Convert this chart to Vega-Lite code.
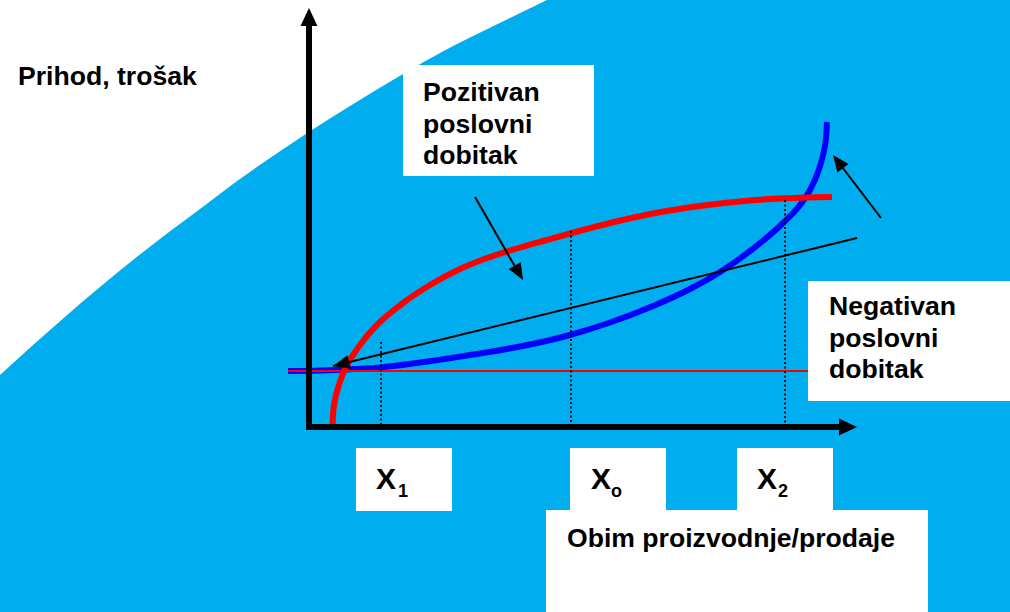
{
  "$schema": "https://vega.github.io/schema/vega-lite/v6.json",
  "width": 1010,
  "height": 612,
  "padding": 0,
  "autosize": {"type": "fit", "contains": "padding"},
  "background": "#00AEEF",
  "view": {"stroke": null},
  "config": {"text": {"font": "Liberation Sans", "fontWeight": "bold", "align": "left", "baseline": "alphabetic", "color": "#000000"}},
  "datasets": {
    "bg": [
      {"x": 0, "y": 375}, {"x": 33, "y": 345}, {"x": 66, "y": 316}, {"x": 100, "y": 287}, {"x": 133, "y": 260},
      {"x": 167, "y": 233.4}, {"x": 200, "y": 209}, {"x": 233, "y": 184}, {"x": 270, "y": 158}, {"x": 305, "y": 134.4},
      {"x": 350, "y": 106}, {"x": 403, "y": 74}, {"x": 440, "y": 53}, {"x": 470, "y": 37.5}, {"x": 510, "y": 18},
      {"x": 547, "y": 0}
    ],
    "cost": [
      {"x": 288, "y": 371}, {"x": 320, "y": 370.5}, {"x": 350, "y": 369.3}, {"x": 380, "y": 367.5}, {"x": 420, "y": 362.5},
      {"x": 470, "y": 355}, {"x": 520, "y": 346.5}, {"x": 570, "y": 335}, {"x": 610, "y": 322.5}, {"x": 653, "y": 306},
      {"x": 690, "y": 289}, {"x": 720, "y": 272}, {"x": 750, "y": 251}, {"x": 783, "y": 223}, {"x": 800, "y": 205},
      {"x": 810, "y": 190}, {"x": 818, "y": 172}, {"x": 823, "y": 155}, {"x": 826, "y": 138}, {"x": 827, "y": 122}
    ],
    "revenue": [
      {"x": 332.5, "y": 428}, {"x": 333, "y": 415}, {"x": 335, "y": 400}, {"x": 338, "y": 388}, {"x": 342, "y": 376},
      {"x": 350, "y": 360}, {"x": 363, "y": 341}, {"x": 380, "y": 322}, {"x": 403, "y": 303}, {"x": 430, "y": 285},
      {"x": 460, "y": 269}, {"x": 487, "y": 258}, {"x": 517, "y": 248.5}, {"x": 545, "y": 240.5}, {"x": 570, "y": 233.5},
      {"x": 610, "y": 223}, {"x": 653, "y": 213.5}, {"x": 700, "y": 206}, {"x": 750, "y": 200.5}, {"x": 785, "y": 198.3},
      {"x": 832, "y": 197}
    ],
    "level": [{"x": 288, "y": 371, "x2": 830, "y2": 371}],
    "pointers": [
      {"x": 333, "y": 366, "x2": 857, "y2": 238},
      {"x": 475, "y": 197, "x2": 521, "y2": 277},
      {"x": 881, "y": 218, "x2": 836, "y2": 159}
    ],
    "guides": [
      {"x": 381, "y": 342, "x2": 381, "y2": 428},
      {"x": 571, "y": 231, "x2": 571, "y2": 428},
      {"x": 785, "y": 200, "x2": 785, "y2": 428}
    ],
    "axes": [
      {"x": 309, "y": 430, "x2": 309, "y2": 20},
      {"x": 306, "y": 427, "x2": 845, "y2": 427}
    ],
    "axisHeads": [
      {"x": 309, "y": 8, "angle": 0},
      {"x": 857, "y": 427, "angle": 90}
    ],
    "pointerHeads": [
      {"x": 523, "y": 280, "angle": 150},
      {"x": 833, "y": 155, "angle": 323},
      {"x": 333, "y": 366, "angle": 256}
    ],
    "boxes": [
      {"x": 403, "y": 65, "x2": 594, "y2": 176},
      {"x": 808, "y": 281, "x2": 1010, "y2": 401},
      {"x": 356, "y": 448, "x2": 452, "y2": 511},
      {"x": 570, "y": 448, "x2": 666, "y2": 510},
      {"x": 737, "y": 448, "x2": 833, "y2": 510},
      {"x": 546, "y": 510, "x2": 928, "y2": 612}
    ],
    "labels": [
      {"x": 18, "y": 85, "text": "Prihod, trošak"},
      {"x": 423, "y": 101, "text": "Pozitivan"},
      {"x": 423, "y": 133, "text": "poslovni"},
      {"x": 423, "y": 164, "text": "dobitak"},
      {"x": 829, "y": 315, "text": "Negativan"},
      {"x": 829, "y": 347, "text": "poslovni"},
      {"x": 829, "y": 378, "text": "dobitak"},
      {"x": 567, "y": 547, "text": "Obim proizvodnje/prodaje"}
    ],
    "symbols": [
      {"x": 376, "y": 489, "text": "X"},
      {"x": 591, "y": 489, "text": "X"},
      {"x": 757, "y": 489, "text": "X"}
    ],
    "subscripts": [
      {"x": 398, "y": 497, "text": "1"},
      {"x": 611, "y": 497, "text": "o"},
      {"x": 778, "y": 497, "text": "2"}
    ]
  },
  "encoding": {
    "x": {"field": "x", "type": "quantitative", "axis": null, "scale": {"domain": [0, 1010], "nice": false, "zero": false}},
    "y": {"field": "y", "type": "quantitative", "axis": null, "scale": {"domain": [0, 612], "nice": false, "zero": false, "reverse": true}}
  },
  "layer": [
    {
      "data": {"name": "bg"},
      "mark": {"type": "area", "color": "#FFFFFF", "interpolate": "monotone", "orient": "vertical"},
      "encoding": {"y2": {"datum": 0}}
    },
    {
      "data": {"name": "cost"},
      "mark": {"type": "line", "color": "#0000FF", "strokeWidth": 6, "interpolate": "monotone", "strokeCap": "butt"},
      "encoding": {}
    },
    {
      "data": {"name": "level"},
      "mark": {"type": "rule", "color": "#FF0000", "strokeWidth": 2},
      "encoding": {"x2": {"field": "x2"}, "y2": {"field": "y2"}}
    },
    {
      "data": {"name": "revenue"},
      "mark": {"type": "line", "color": "#FF0000", "strokeWidth": 6, "interpolate": "monotone", "strokeCap": "butt"},
      "encoding": {}
    },
    {
      "data": {"name": "guides"},
      "mark": {"type": "rule", "color": "#000000", "strokeWidth": 1.8, "strokeDash": [2, 2.5]},
      "encoding": {"x2": {"field": "x2"}, "y2": {"field": "y2"}}
    },
    {
      "data": {"name": "pointers"},
      "mark": {"type": "rule", "color": "#000000", "strokeWidth": 2},
      "encoding": {"x2": {"field": "x2"}, "y2": {"field": "y2"}}
    },
    {
      "data": {"name": "pointerHeads"},
      "mark": {"type": "point", "shape": "M0,0L-0.42,1L0.42,1Z", "filled": true, "color": "#000000", "opacity": 1, "size": 1100, "strokeWidth": 0},
      "encoding": {"angle": {"field": "angle", "type": "quantitative", "scale": null}}
    },
    {
      "data": {"name": "axes"},
      "mark": {"type": "rule", "color": "#000000", "strokeWidth": 6},
      "encoding": {"x2": {"field": "x2"}, "y2": {"field": "y2"}}
    },
    {
      "data": {"name": "axisHeads"},
      "mark": {"type": "point", "shape": "M0,0L-0.47,1L0.47,1Z", "filled": true, "color": "#000000", "opacity": 1, "size": 1300, "strokeWidth": 0},
      "encoding": {"angle": {"field": "angle", "type": "quantitative", "scale": null}}
    },
    {
      "data": {"name": "boxes"},
      "mark": {"type": "rect", "color": "#FFFFFF", "opacity": 1},
      "encoding": {"x2": {"field": "x2"}, "y2": {"field": "y2"}}
    },
    {
      "data": {"name": "labels"},
      "mark": {"type": "text", "fontSize": 26.6},
      "encoding": {"text": {"field": "text"}}
    },
    {
      "data": {"name": "symbols"},
      "mark": {"type": "text", "fontSize": 30},
      "encoding": {"text": {"field": "text"}}
    },
    {
      "data": {"name": "subscripts"},
      "mark": {"type": "text", "fontSize": 18},
      "encoding": {"text": {"field": "text"}}
    }
  ]
}
